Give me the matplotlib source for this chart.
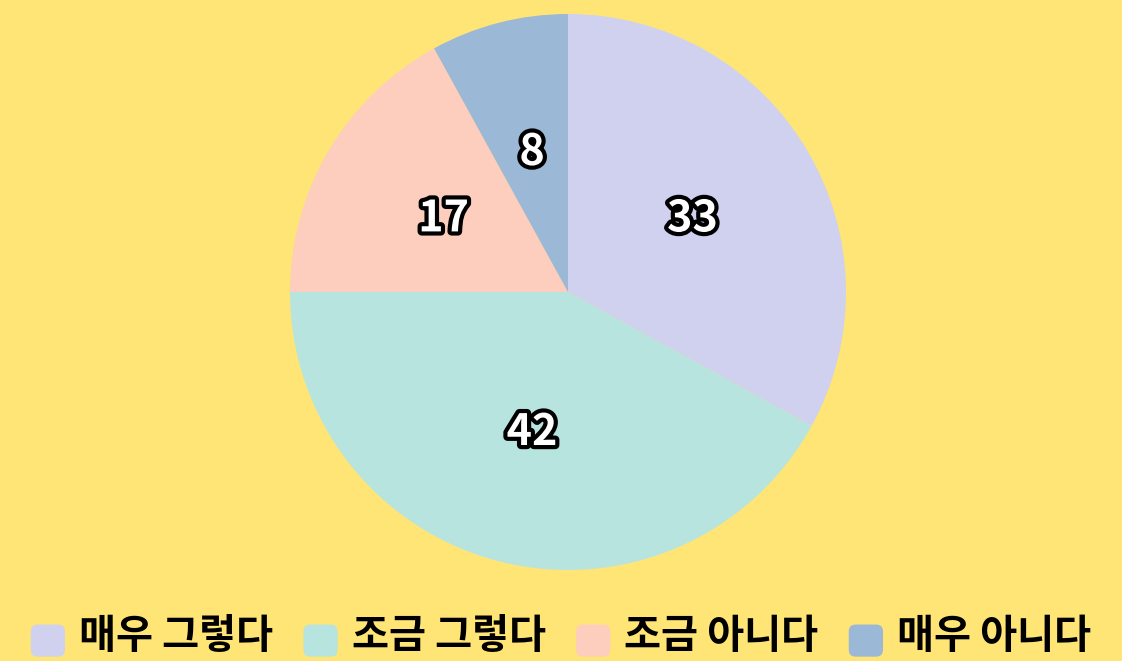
import matplotlib
matplotlib.use('Agg')
import matplotlib.pyplot as plt
import matplotlib.patheffects as pe
from matplotlib.patches import FancyBboxPatch
from matplotlib.legend_handler import HandlerPatch

plt.rcParams['font.family'] = ['Noto Sans CJK KR', 'DejaVu Sans']

labels = ['매우 그렇다', '조금 그렇다', '조금 아니다', '매우 아니다']
values = [33, 42, 17, 8]
colors = ['#CFD1EF', '#B8E4DF', '#FDCDBE', '#9BB8D6']
bg = '#FFE575'


class RoundBox(HandlerPatch):
    def create_artists(self, legend, orig_handle, xdescent, ydescent,
                       width, height, fontsize, trans):
        p = FancyBboxPatch((-xdescent, -ydescent - height * 0.2), width, height,
                           boxstyle='round,pad=0,rounding_size=%f' % (width * 0.2),
                           facecolor=orig_handle.get_facecolor(),
                           edgecolor='none', transform=trans)
        return [p]


fig = plt.figure(figsize=(11.22, 6.61), dpi=100, facecolor=bg)
ax = fig.add_axes([0, 0, 1, 1])
ax.set_facecolor(bg)

wedges, texts = ax.pie(values, colors=colors, startangle=90, counterclock=False,
                       center=(568, 661 - 292), radius=278,
                       labels=[str(v) for v in values], labeldistance=0.52,
                       textprops=dict(color='white', fontsize=31, fontweight='black',
                                      ha='center', va='center'))
for t in texts:
    t.set_path_effects([pe.withStroke(linewidth=6, foreground='black')])

ax.set_xlim(0, 1122)
ax.set_ylim(0, 661)
ax.set_aspect('equal')
ax.axis('off')

leg = ax.legend(wedges, labels, loc='upper center', bbox_to_anchor=(0.5, 1 - 600 / 661),
                ncol=4, frameon=False, handler_map={w: RoundBox() for w in wedges},
                prop=dict(size=29, weight='black'),
                handlelength=0.85, handleheight=0.85, handletextpad=0.35,
                columnspacing=0.75, borderaxespad=0)

fig.savefig('out.png', dpi=100, facecolor=bg)
